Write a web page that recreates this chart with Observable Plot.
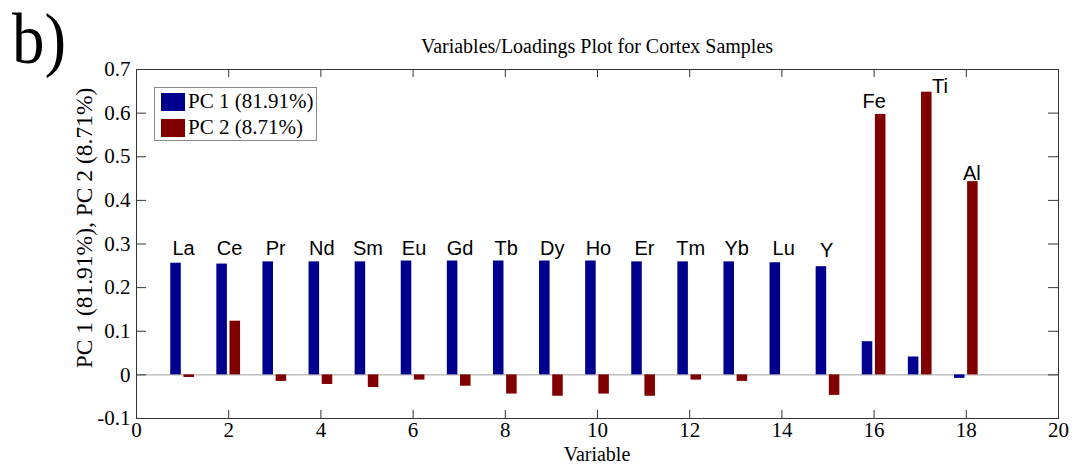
<!DOCTYPE html>
<html>
<head>
<meta charset="utf-8">
<script src="https://cdn.jsdelivr.net/npm/d3@7"></script>
<script src="https://cdn.jsdelivr.net/npm/@observablehq/plot@0.6"></script>
<style>
  html, body { margin: 0; padding: 0; background: #fff; }
  #wrap { position: relative; width: 1075px; height: 464px; overflow: hidden; font-family: "Liberation Serif", "Times New Roman", serif; color: #000; }
  #wrap svg { position: absolute; left: 0; top: 0; }
  .abs { position: absolute; white-space: nowrap; line-height: 1; }
  #panel { left: 12px; top: 3px; font-size: 65px; transform: scaleY(1.12); transform-origin: top left; }
  #title { left: 0; width: 1194px; top: 36px; text-align: center; font-size: 20px; }
  #xlabel { left: 0; width: 1194px; top: 444px; text-align: center; font-size: 20px; }
  #ylabel { left: 85px; top: 228px; font-size: 23.5px; transform: translate(-50%, -50%) rotate(-90deg); }
  #legend { left: 154px; top: 87px; width: 163px; height: 54px; border: 1px solid #8a8a8a; background: #fff; box-sizing: border-box; }
  .leg-row { position: absolute; left: 6px; display: flex; align-items: center; font-size: 21px; }
  .sw { width: 24px; height: 18px; margin-right: 3px; }
</style>
</head>
<body>
<div id="wrap">
  <div id="chart"></div>
  <div class="abs" id="panel">b)</div>
  <div class="abs" id="title">Variables/Loadings Plot for Cortex Samples</div>
  <div class="abs" id="xlabel">Variable</div>
  <div class="abs" id="ylabel">PC 1 (81.91%), PC 2 (8.71%)</div>
  <div class="abs" id="legend"></div>
</div>
<script>
// ---- data ----
const elements = ["La","Ce","Pr","Nd","Sm","Eu","Gd","Tb","Dy","Ho","Er","Tm","Yb","Lu","Y","Fe","Ti","Al"];
const variable = [1,2,3,4,5,6,7,8,9,10,11,12,13,14,15,16,17,18];
const pc1 = [0.256,0.254,0.259,0.259,0.259,0.261,0.261,0.261,0.261,0.261,0.259,0.259,0.259,0.257,0.248,0.076,0.041,-0.008];
const pc2 = [-0.006,0.123,-0.015,-0.022,-0.029,-0.012,-0.026,-0.044,-0.049,-0.044,-0.049,-0.012,-0.015,0.0,-0.047,0.597,0.648,0.443];
// label anchor points (data units)
const labelX = [1.02,2.02,3.02,4.02,5.02,6.02,7.02,8.02,9.02,10.02,11.02,12.02,13.02,14.04,14.97,16.0,17.43,18.12];
const labelY = [0.29,0.29,0.29,0.29,0.29,0.29,0.29,0.29,0.29,0.29,0.29,0.29,0.29,0.29,0.285,0.627,0.661,0.462];
const seriesNames = ["PC 1 (81.91%)", "PC 2 (8.71%)"];
const xTicks = [0,2,4,6,8,10,12,14,16,18,20];
const yTicks = [-0.1,0,0.1,0.2,0.3,0.4,0.5,0.6,0.7];
const yTickLabels = ["-0.1","0","0.1","0.2","0.3","0.4","0.5","0.6","0.7"];

const colors = ["#00008f", "#800000"];

const rows = variable.map((v, i) => ({v, pc1: pc1[i], pc2: pc2[i]}));
const labels = elements.map((e, i) => ({name: e, x: labelX[i], y: labelY[i]}));

const W = 1075, H = 464;
const mL = 136, mR = 17, mT = 69, mB = 46;
const fw = W - mL - mR, fh = H - mT - mB;
const half = 0.2857 / 2; // group half-width
const bw = 0.2286;       // bar width

const chart = Plot.plot({
  width: W, height: H,
  marginLeft: mL, marginRight: mR, marginTop: mT, marginBottom: mB,
  style: {fontFamily: '"Liberation Serif", "Times New Roman", serif', fontSize: "21px", background: "transparent", overflow: "visible"},
  x: {domain: [0, 20], axis: null},
  y: {domain: [-0.1, 0.7], axis: null},
  marks: [
    Plot.ruleY([0], {stroke: "#a0a0a0", strokeWidth: 1}),
    Plot.rect(rows, {x1: d => d.v - 2*half + (2*half - bw)/2, x2: d => d.v - 2*half + (2*half - bw)/2 + bw, y1: 0, y2: "pc1", fill: colors[0]}),
    Plot.rect(rows, {x1: d => d.v + (2*half - bw)/2, x2: d => d.v + (2*half - bw)/2 + bw, y1: 0, y2: "pc2", fill: colors[1]}),
    Plot.text(labels, {x: "x", y: "y", text: "name", fontFamily: '"Liberation Sans", Arial, sans-serif', fontSize: 20, fill: "#000"}),
    // inward ticks
    Plot.tickY(yTicks, {y: d => d, insetRight: fw - 10, stroke: "#333"}),
    Plot.tickY(yTicks, {y: d => d, insetLeft: fw - 10, stroke: "#333"}),
    Plot.tickX(xTicks, {x: d => d, insetTop: fh - 8, stroke: "#333"}),
    Plot.tickX(xTicks, {x: d => d, insetBottom: fh - 8, stroke: "#333"}),
    Plot.frame({stroke: "#333", strokeWidth: 1}),
    Plot.axisY({ticks: yTicks, tickSize: 0, tickPadding: 6, label: null, tickFormat: d => yTickLabels[yTicks.indexOf(d)], fontSize: 21, fill: "#000"}),
    Plot.axisX({ticks: xTicks, tickSize: 0, tickPadding: 4, label: null, tickFormat: d => String(d), fontSize: 21, fill: "#000"})
  ]
});
document.getElementById("chart").appendChild(chart);

// legend
const leg = document.getElementById("legend");
seriesNames.forEach((name, i) => {
  const row = document.createElement("div");
  row.className = "leg-row";
  row.style.top = (i === 0 ? 3 : 29) + "px";
  const sw = document.createElement("div");
  sw.className = "sw";
  sw.style.background = colors[i];
  const t = document.createElement("span");
  t.textContent = name;
  row.appendChild(sw);
  row.appendChild(t);
  leg.appendChild(row);
});
</script>
</body>
</html>
